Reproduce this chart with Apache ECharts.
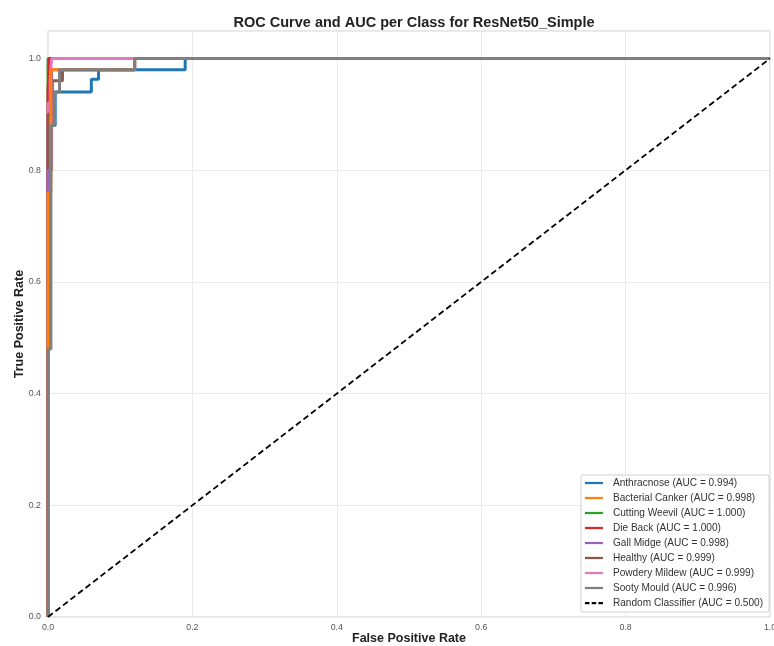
<!DOCTYPE html>
<html>
<head>
<meta charset="utf-8">
<script src="https://cdn.jsdelivr.net/npm/echarts@6/dist/echarts.min.js"></script>
<style>
html,body{margin:0;padding:0;background:#fff;}
#chart{width:774px;height:646px;}
</style>
</head>
<body>
<div id="chart"></div>
<script>
// ---- data ----
const classNames = ["Anthracnose","Bacterial Canker","Cutting Weevil","Die Back","Gall Midge","Healthy","Powdery Mildew","Sooty Mould"];
const aucValues  = ["0.994","0.998","1.000","1.000","0.998","0.999","0.999","0.996"];

const fprAnthracnose = [0,0,0.01,0.01,0.06,0.06,0.07,0.07,0.19,0.19,1];
const tprAnthracnose = [0,0.88,0.88,0.94,0.94,0.963,0.963,0.98,0.98,1,1];

const fprBacterialCanker = [0,0,0.004,0.004,0.12,0.12,1];
const tprBacterialCanker = [0,0.76,0.76,0.98,0.98,1,1];

const fprCuttingWeevil = [0,0,1];
const tprCuttingWeevil = [0,1,1];

const fprDieBack = [0,0,0.002,0.002,1];
const tprDieBack = [0,0.94,0.94,1,1];

const fprGallMidge = [0,0,0.005,0.005,0.12,0.12,1];
const tprGallMidge = [0,0.80,0.80,0.98,0.98,1,1];

const fprHealthy = [0,0,0.006,0.006,0.02,0.02,0.12,0.12,1];
const tprHealthy = [0,0.90,0.90,0.96,0.96,0.98,0.98,1,1];

const fprPowderyMildew = [0,0,0.003,0.003,0.005,0.005,1];
const tprPowderyMildew = [0,0.92,0.92,0.96,0.96,1,1];

const fprSootyMould = [0,0,0.004,0.004,0.009,0.009,0.016,0.016,0.12,0.12,1];
const tprSootyMould = [0,0.48,0.48,0.88,0.88,0.94,0.94,0.98,0.98,1,1];

const fprRandom = [0,1];
const tprRandom = [0,1];
const randomAuc = "0.500";

const xTicks = [0,0.2,0.4,0.6,0.8,1.0];
const yTicks = [0,0.2,0.4,0.6,0.8,1.0];

// ---- styling ----
const colors = ["#1f77b4","#ff7f0e","#2ca02c","#d62728","#9467bd","#8c564b","#e377c2","#7f7f7f"];
// drawing order (bottom -> top), legend keeps class order
const drawOrder = [0,2,3,6,5,4,1,7];
const fprs = [fprAnthracnose,fprBacterialCanker,fprCuttingWeevil,fprDieBack,fprGallMidge,fprHealthy,fprPowderyMildew,fprSootyMould];
const tprs = [tprAnthracnose,tprBacterialCanker,tprCuttingWeevil,tprDieBack,tprGallMidge,tprHealthy,tprPowderyMildew,tprSootyMould];

function pairs(xs, ys){ return xs.map((x,i)=>[x, ys[i]]); }

const FONT = 'Liberation Sans, Arial, sans-serif';
const lineIcon = 'path://M0,0H24V3H0Z';
const dashIcon = 'path://M0,0H6V3H0Z M9,0H15V3H9Z M18,0H24V3H18Z';
const legendData = classNames.map((n,i)=>({name: n + " (AUC = " + aucValues[i] + ")", icon: lineIcon}));
const rname = "Random Classifier (AUC = " + randomAuc + ")";
legendData.push({name:rname, icon:dashIcon});

const series = [];
drawOrder.forEach(i=>{
  series.push({
    name:legendData[i].name, type:'line', data:pairs(fprs[i], tprs[i]),
    showSymbol:false, symbol:'none',
    lineStyle:{color:colors[i], width:3}, itemStyle:{color:colors[i]},
    animation:false, clip:true
  });
});
series.push({
  name:rname, type:'line', data:pairs(fprRandom,tprRandom), showSymbol:false, symbol:'none',
  lineStyle:{color:'#000', width:1.8, type:[6,3.5]}, itemStyle:{color:'#000'}, animation:false
});

const chart = echarts.init(document.getElementById('chart'), null, {renderer:'canvas'});
chart.setOption({
  backgroundColor:'#fff',
  animation:false,
  title:{
    text:'ROC Curve and AUC per Class for ResNet50_Simple',
    left:409, top:10, textAlign:'center',
    textStyle:{fontFamily:FONT, fontSize:14.5, fontWeight:'bold', color:'#222'}
  },
  grid:{left:48, right:4, top:31, bottom:29, show:true, borderColor:'#cfcfcf', borderWidth:1, backgroundColor:'#fff',
        containLabel:false, outerBoundsMode:'none'},
  legend:{
    data:legendData, orient:'vertical', right:5, bottom:34,
    itemWidth:18, itemHeight:7, itemGap:5,
    padding:[3,6,4,4],
    backgroundColor:'#fff', borderColor:'#d0d0d0', borderWidth:1, borderRadius:2,
    textStyle:{fontFamily:FONT, fontSize:10.1, color:'#333', padding:[0,0,0,5]}
  },
  xAxis:{
    type:'value', min:0, max:1, interval:0.2,
    name:'False Positive Rate', nameLocation:'middle', nameGap:15, nameMoveOverlap:false,
    nameTextStyle:{fontFamily:FONT, fontSize:12.5, fontWeight:'bold', color:'#222'},
    axisLine:{show:false}, axisTick:{show:false},
    axisLabel:{fontFamily:FONT, fontSize:8.8, color:'#555', margin:6,
      formatter:(v)=> xTicks.some(t=>Math.abs(t-v)<1e-9) ? v.toFixed(1) : ''},
    splitLine:{show:true, lineStyle:{color:'#ebebeb', width:1}}
  },
  yAxis:{
    type:'value', min:0, max:1.0492, interval:0.2,
    name:'True Positive Rate', nameLocation:'middle', nameGap:22, nameMoveOverlap:false,
    nameTextStyle:{fontFamily:FONT, fontSize:12.5, fontWeight:'bold', color:'#222'},
    axisLine:{show:false}, axisTick:{show:false},
    axisLabel:{fontFamily:FONT, fontSize:8.8, color:'#555', margin:7,
      formatter:(v)=> yTicks.some(t=>Math.abs(t-v)<1e-9) ? v.toFixed(1) : ''},
    splitLine:{show:true, lineStyle:{color:'#ebebeb', width:1}}
  },
  series:series
});
</script>
</body>
</html>
